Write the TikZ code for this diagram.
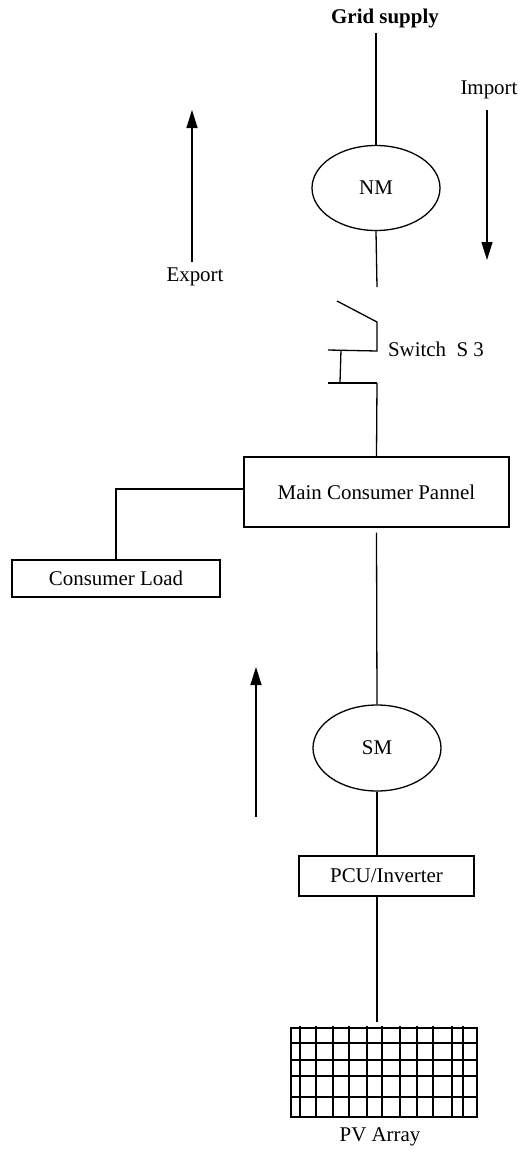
\documentclass[tikz,border=0pt]{standalone}
\usepackage{fontspec}
\setmainfont{Liberation Serif}
\usetikzlibrary{shapes.geometric,arrows.meta}

\tikzset{
  box/.style={draw, line width=1.4bp, inner sep=0pt},
  meter/.style={draw, ellipse, line width=1.3bp, inner sep=0pt, minimum width=128bp, minimum height=85bp},
  flow/.style={line width=1.3bp, -{Triangle[length=18bp,width=11bp]}}
}

\begin{document}
\begin{tikzpicture}[x=1bp, y=-1bp, font=\fontsize{21}{25}\selectfont, line width=1.3bp]
  \useasboundingbox (0,0) rectangle (520,1155);

  % Grid and net meter
  \node[font=\fontsize{21}{25}\selectfont\bfseries] (grid) at (385,18) {Grid supply};
  \node[meter] (nm) at (376,188) {NM};
  \draw (nm.north |- 0,33) -- (nm.north);
  \coordinate (swtop) at (377,287);
  \draw (nm.south) -- (swtop);

  % Import / Export
  \node (import) at (489,90) {Import};
  \node (export) at (195,277) {Export};
  \draw[flow] (487,110) -- (487,260);
  \draw[flow] (192,262) -- (192,110);

  % Switch S 3
  \coordinate (sw1) at (377,322);
  \coordinate (sw2) at (377,351);
  \coordinate (swbot) at (377,383);
  \draw (337,301) -- (sw1) -- (sw2) -- (328,350);
  \draw (341,350) -- (340,382);
  \draw (328,383) -- (swbot);
  \node (swlabel) at (436,349) {Switch\ \ S 3};

  % Panel and load
  \node[box, minimum width=265bp, minimum height=70bp] (main) at (376.5,492) {Main Consumer Pannel};
  \node[box, minimum width=208bp, minimum height=37bp] (load) at (116,578.5) {Consumer Load};
  \draw (swbot) -- (main.north);
  \draw (main.west |- 0,489) -| (load.north);

  % Solar meter and inverter
  \node[meter, minimum height=86bp] (sm) at (377,748) {SM};
  \draw ([yshift=-5bp]main.south) -- (sm.north);
  \draw[flow] (256,817) -- (256,667);
  \node[box, minimum width=175bp, minimum height=40bp] (pcu) at (386.5,876) {PCU/Inverter};
  \draw (sm.south) -- (sm.south |- pcu.north);

  % PV array
  \node[box, line width=1.6bp, minimum width=186bp, minimum height=89bp] (pv) at (384,1072.5) {};
  \draw (sm.south |- pcu.south) -- ([yshift=5bp]sm.south |- pv.north);
  \foreach \x in {300,316,333,349,367,382,400,417,433,452,463}
    \draw[line width=1.6bp] (\x,1026) -- (\x,1117);
  \foreach \y in {1043,1060,1076,1097}
    \draw[line width=1.6bp] (291,\y) -- (477,\y);
  \node (pvlabel) at (380,1137) {PV Array};
\end{tikzpicture}
\end{document}
